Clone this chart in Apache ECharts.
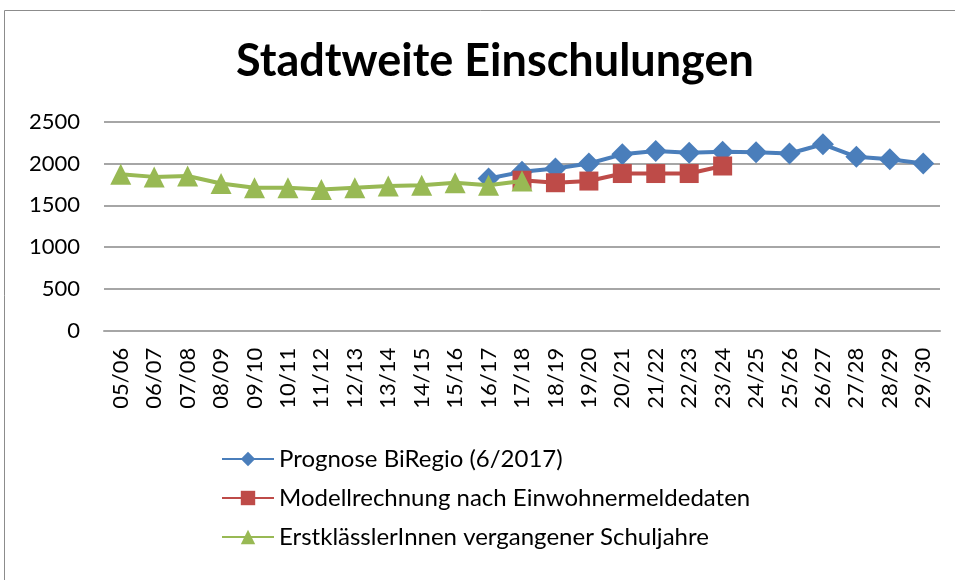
<!DOCTYPE html>
<html><head><meta charset="utf-8">
<script src="https://cdn.jsdelivr.net/npm/echarts@6/dist/echarts.min.js"></script>
<style>html,body{margin:0;padding:0;background:#fff}#c{width:955px;height:580px}</style>
</head><body><div id="c"></div>
<script>
const categories = ['05/06','06/07','07/08','08/09','09/10','10/11','11/12','12/13','13/14','14/15','15/16','16/17','17/18','18/19','19/20','20/21','21/22','22/23','23/24','24/25','25/26','26/27','27/28','28/29','29/30'];
const prognose = [null,null,null,null,null,null,null,null,null,null,null,1820,1900,1940,2000,2110,2150,2130,2140,2135,2120,2230,2080,2050,2000];
const modell = [null,null,null,null,null,null,null,null,null,null,null,null,1800,1770,1790,1880,1880,1880,1970,null,null,null,null,null,null];
const erst = [1870,1840,1850,1760,1710,1710,1690,1710,1730,1740,1770,1740,1790,null,null,null,null,null,null,null,null,null,null,null,null];
const yTicks = [0,500,1000,1500,2000,2500];

const chart = echarts.init(document.getElementById('c'));
const font = 'Lato, "Open Sans", sans-serif';
chart.setOption({
  animation: false,
  title: { text: 'Stadtweite Einschulungen', left: 231, top: 34,
    textStyle: { fontFamily: font, fontWeight: 'bold', fontSize: 45, color: '#000' } },
  graphic: [{ type: 'rect', shape: { x: 4.5, y: 10.5, width: 960, height: 600 },
    style: { fill: 'none', stroke: '#8c8c8c', lineWidth: 1 } }],
  grid: { left: 104, right: 15, top: 121.7, bottom: 249.3 },
  legend: { orient: 'vertical', left: 216, top: 442, itemWidth: 52, itemHeight: 18, itemGap: 15,
    textStyle: { fontFamily: font, fontSize: 24, color: '#000' },
    data: ['Prognose BiRegio (6/2017)','Modellrechnung nach Einwohnermeldedaten','ErstklässlerInnen vergangener Schuljahre'] },
  xAxis: { type: 'category', data: categories, boundaryGap: true,
    axisLine: { show: true, lineStyle: { color: '#a6a6a6', width: 2 } }, axisTick: { show: false },
    axisLabel: { rotate: 90, fontFamily: font, fontSize: 22, color: '#000', margin: 17, interval: 0 } },
  yAxis: { type: 'value', min: 0, max: 2500, interval: 500,
    axisLine: { show: false }, axisTick: { show: false },
    splitLine: { lineStyle: { color: '#a6a6a6', width: 2 } },
    axisLabel: { fontFamily: font, fontSize: 22, color: '#000', margin: 24,
      formatter: v => String(yTicks.find(t => t === v) ?? v) } },
  series: [
    { name: 'Prognose BiRegio (6/2017)', type: 'line', data: prognose, symbol: 'diamond', symbolSize: 22,
      lineStyle: { color: '#4a7ebb', width: 4 }, itemStyle: { color: '#4a7ebb' }, z: 3 },
    { name: 'Modellrechnung nach Einwohnermeldedaten', type: 'line', data: modell, symbol: 'rect', symbolSize: 19,
      lineStyle: { color: '#be4b48', width: 4 }, itemStyle: { color: '#be4b48' }, z: 4 },
    { name: 'ErstklässlerInnen vergangener Schuljahre', type: 'line', data: erst, symbol: 'triangle', symbolSize: 21,
      lineStyle: { color: '#98b954', width: 4 }, itemStyle: { color: '#98b954' }, z: 5 }
  ]
});
</script></body></html>
